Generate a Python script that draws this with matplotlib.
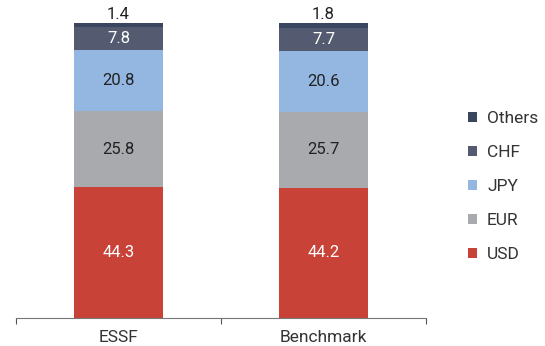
import numpy as np
import matplotlib.pyplot as plt

plt.rcParams['font.family'] = ['Roboto', 'DejaVu Sans']

# Currency composition (%)
funds = ['ESSF', 'Benchmark']
currencies = ['USD', 'EUR', 'JPY', 'CHF', 'Others']
usd = [44.3, 44.2]
eur = [25.8, 25.7]
jpy = [20.8, 20.6]
chf = [7.8, 7.7]
others = [1.4, 1.8]

colors = ['#c94238', '#a9aaad', '#93b7e0', '#545b70', '#3a4560']
text_colors = ['white', '#222222', '#222222', 'white', '#222222']

fig = plt.figure(figsize=(5.45, 3.46), dpi=100)
ax = fig.add_axes([16/545, 28/346, 410/545, 295/346])

x = np.arange(len(funds))
bottom = np.zeros(len(funds))
handles = []
for name, vals, c, tc in zip(currencies, [usd, eur, jpy, chf, others], colors, text_colors):
    vals = np.array(vals)
    b = ax.bar(x, vals, bottom=bottom, width=0.43, color=c, label=name)
    handles.append(b)
    for xi, v, bt in zip(x, vals, bottom):
        if name == 'Others':
            ax.text(xi, bt + v + 0.2, f'{v:.1f}', ha='center', va='bottom',
                    fontsize=12, color=tc)
        else:
            ax.text(xi, bt + v / 2, f'{v:.1f}', ha='center', va='center',
                    fontsize=12, color=tc)
    bottom += vals

ax.set_xlim(-0.5, 1.5)
ax.set_ylim(0, 100)
ax.set_yticks([])
ax.set_xticks([-0.5, 0.5, 1.5], minor=False)
ax.set_xticklabels([])
ax.set_xticks(x, minor=True)
ax.set_xticklabels(funds, minor=True, fontsize=12.5, color='#333333')
ax.tick_params(axis='x', which='major', length=4, color='#555555')
ax.tick_params(axis='x', which='minor', length=0, pad=9)
for s in ['top', 'right', 'left']:
    ax.spines[s].set_visible(False)
ax.spines['bottom'].set_color('#777777')

leg = fig.legend(handles[::-1], currencies[::-1], loc='upper left',
                 bbox_to_anchor=(461/545, 1 - 104/346), frameon=False,
                 fontsize=12.5, handlelength=0.55, handleheight=0.55,
                 labelspacing=1.1, handletextpad=0.55, borderaxespad=0)
for t in leg.get_texts():
    t.set_color('#333333')

fig.savefig('out.png', dpi=100)
